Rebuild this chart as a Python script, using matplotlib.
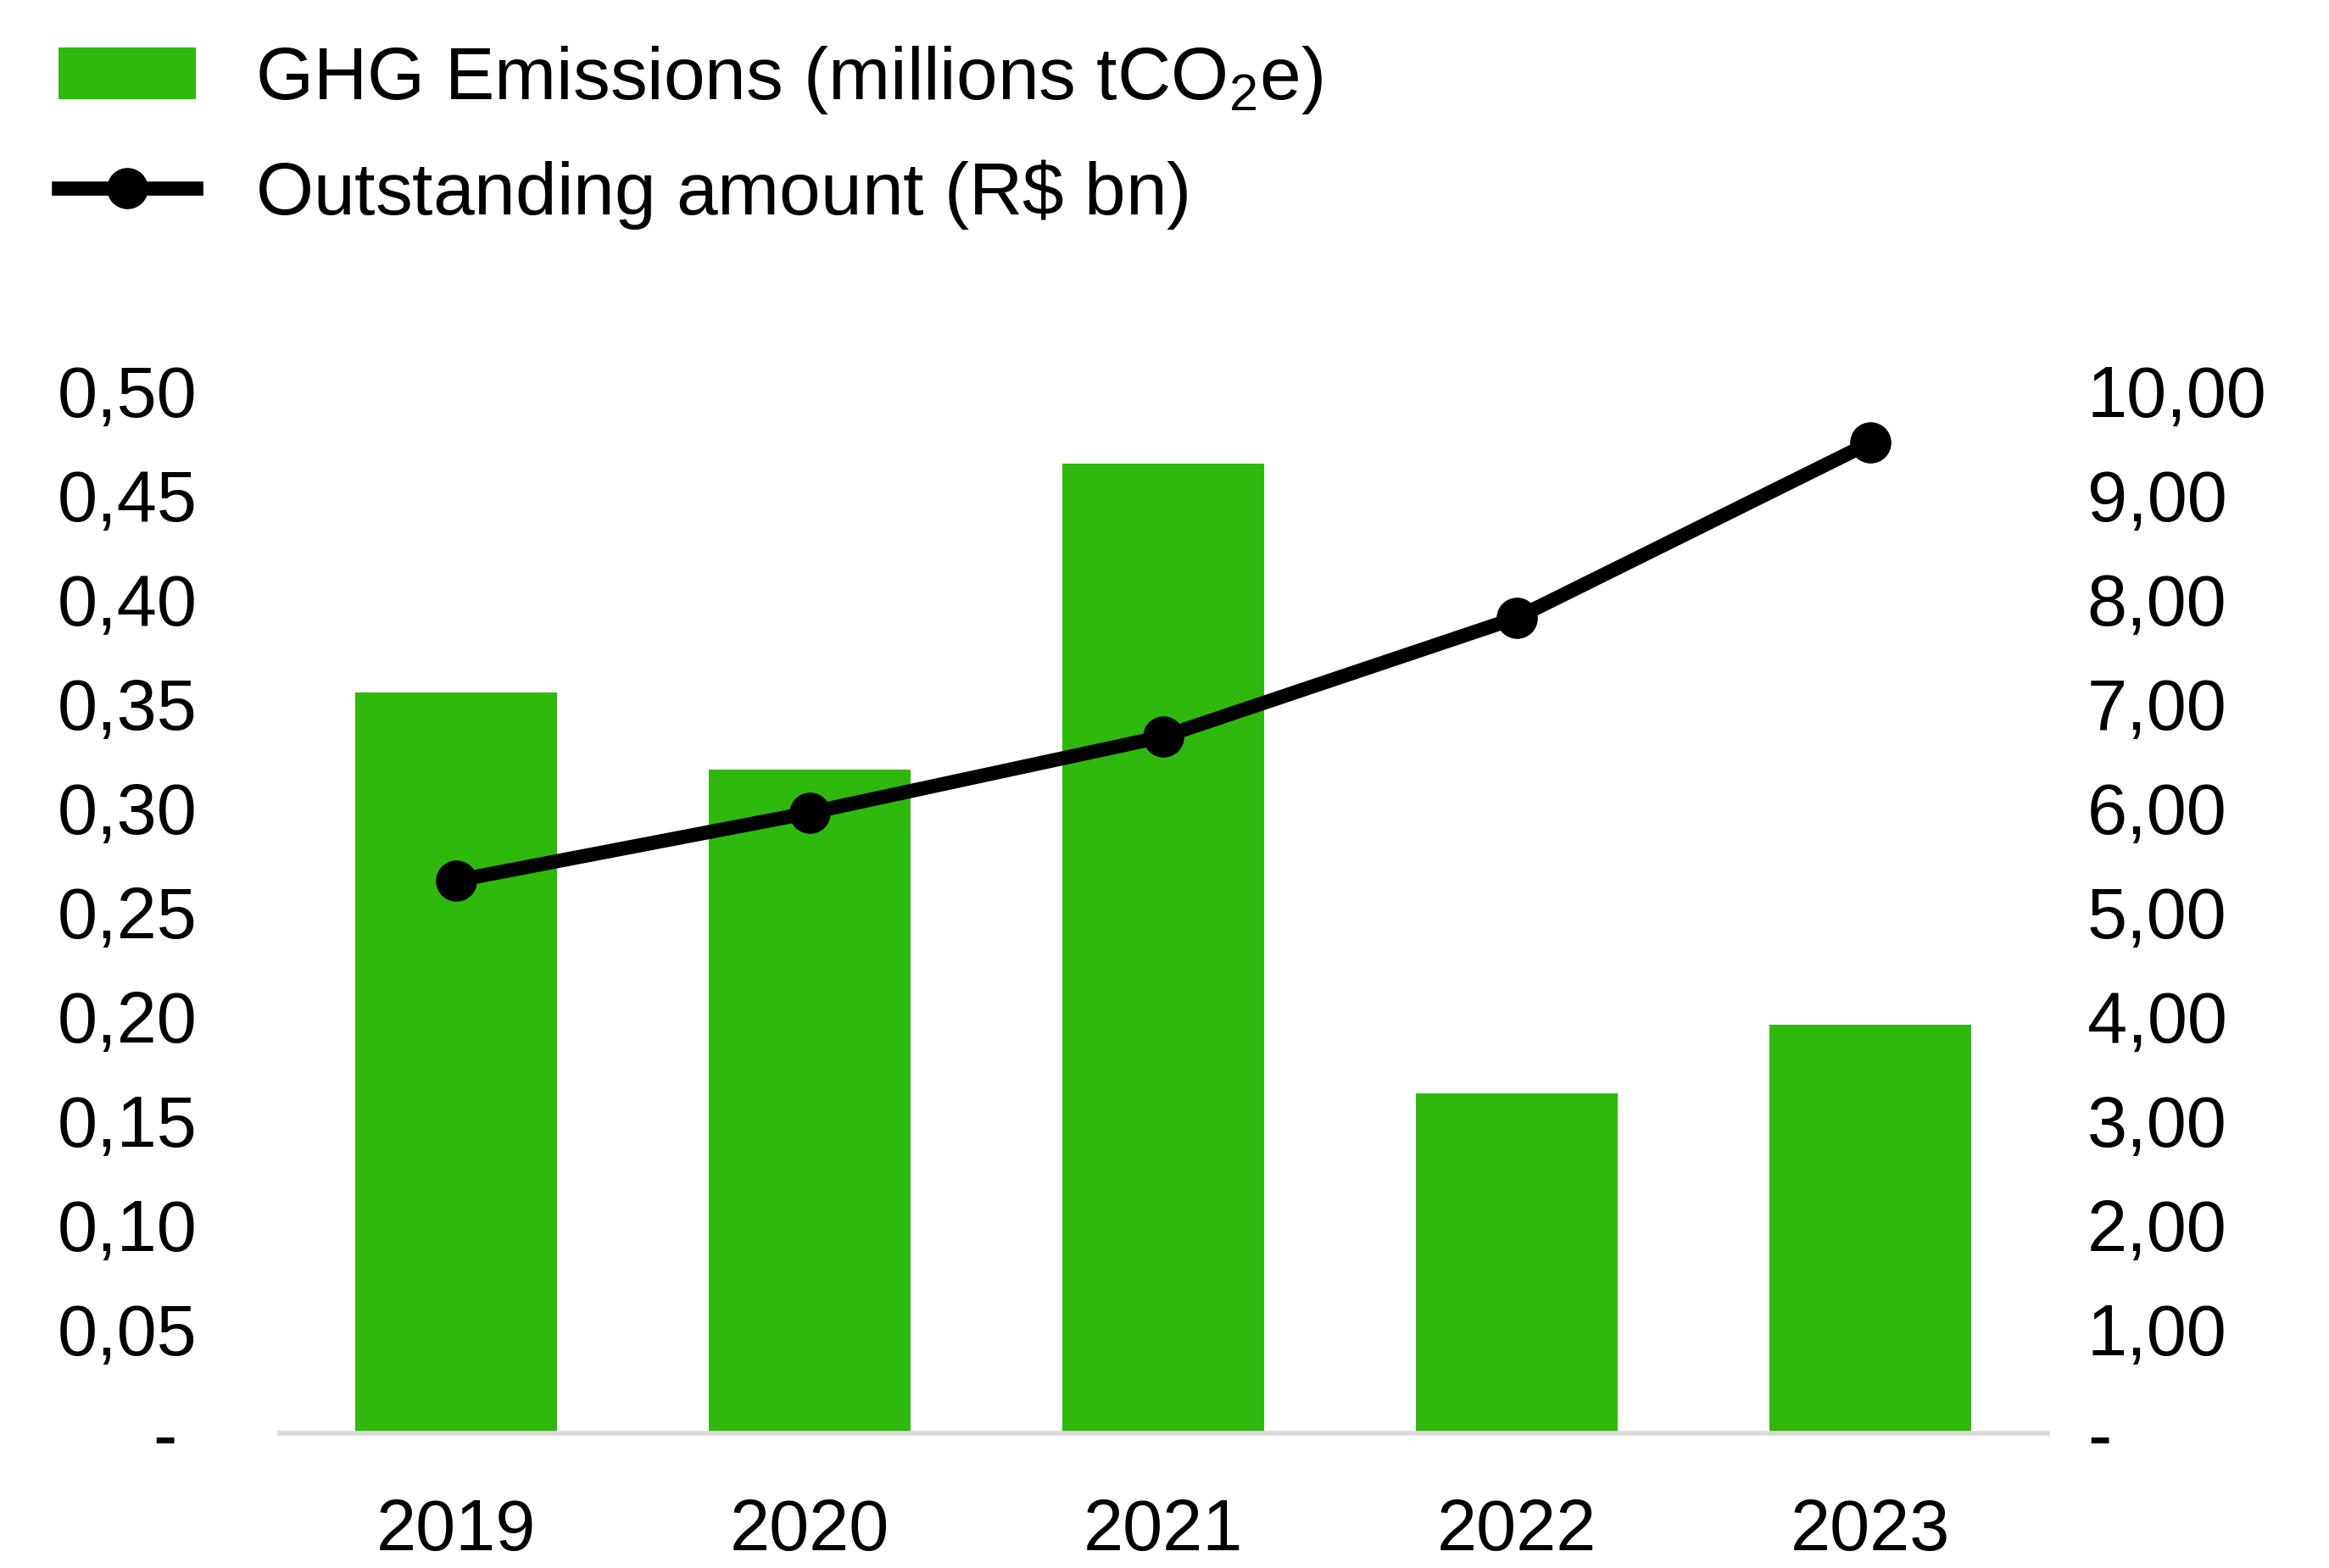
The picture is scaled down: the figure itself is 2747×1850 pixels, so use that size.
#!/usr/bin/env python3

import matplotlib
matplotlib.use("Agg")
import matplotlib.pyplot as plt
from matplotlib.lines import Line2D
from matplotlib.patches import Patch

plt.rcParams["font.family"] = ["Liberation Sans", "DejaVu Sans"]
plt.rcParams["mathtext.fontset"] = "custom"
plt.rcParams["mathtext.rm"] = "Liberation Sans"
plt.rcParams["mathtext.it"] = "Liberation Sans"

# data
years = ["2019", "2020", "2021", "2022", "2023"]
ghg = [0.355, 0.318, 0.465, 0.163, 0.196]          # millions tCO2e
outstanding = [5.30, 5.95, 6.68, 7.82, 9.50]       # R$ bn

left_ticks = [0, 0.05, 0.10, 0.15, 0.20, 0.25, 0.30, 0.35, 0.40, 0.45, 0.50]
right_ticks = [0, 1, 2, 3, 4, 5, 6, 7, 8, 9, 10]

green = "#2fb90c"
fs = 61

fig = plt.figure(figsize=(27.47, 18.5), dpi=100)
ax = fig.add_axes([0.120, 0.086, 0.759, 0.665])
x = list(range(len(years)))
ax.bar(x, ghg, width=0.57, color=green, zorder=1)
ax.set_xlim(-0.5, 4.5)
ax.set_ylim(0, 0.5)

def left_fmt(v):
    if v == 0:
        return "- "
    return ("%.2f" % v).replace(".", ",")

def right_fmt(v):
    if v == 0:
        return "-"
    return ("%.2f" % v).replace(".", ",")

ax.set_yticks(left_ticks)
ax.set_yticklabels([left_fmt(v) for v in left_ticks], fontsize=fs)
ax.set_xticks(x)
ax.set_xticklabels(years, fontsize=fs)
ax.tick_params(axis="y", length=0, pad=70)
ax.tick_params(axis="x", length=0, pad=55)
for s in ["top", "left", "right"]:
    ax.spines[s].set_visible(False)
ax.spines["bottom"].set_color("#d9d9d9")
ax.spines["bottom"].set_linewidth(4)

ax2 = ax.twinx()
ax2.plot(x, outstanding, color="black", lw=12, marker="o", markersize=34)
ax2.set_ylim(0, 10)
ax2.set_yticks(right_ticks)
ax2.set_yticklabels([right_fmt(v) for v in right_ticks], fontsize=fs)
ax2.tick_params(axis="y", length=0, pad=34)
for s in ["top", "left", "right", "bottom"]:
    ax2.spines[s].set_visible(False)

handles = [
    Patch(facecolor=green, edgecolor="none"),
    Line2D([0], [0], color="black", lw=12, marker="o", markersize=34),
]
labels = ["GHG Emissions (millions tCO$_2$e)", "Outstanding amount (R$\\$$ bn)"]
fig.legend(handles, labels, loc="upper left", bbox_to_anchor=(0.003, 1.005),
           frameon=False, fontsize=63, handlelength=1.85, handletextpad=0.8,
           labelspacing=0.56, borderaxespad=0.3)

fig.savefig("out.png", dpi=100)
